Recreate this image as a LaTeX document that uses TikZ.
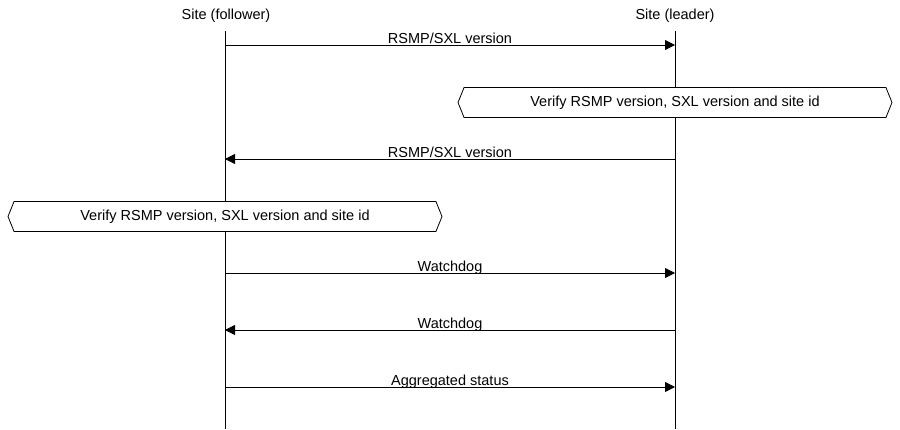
\documentclass[tikz,border=0pt]{standalone}
\usepackage{fontspec}
\setmainfont{Liberation Sans}
\usetikzlibrary{arrows.meta}
\usetikzlibrary{shapes.symbols}

\tikzset{
  life/.style={black,line width=0.8pt},
  msg/.style={black,line width=0.8pt,-{Triangle[length=10pt,width=10pt]}},
  lbl/.style={midway,anchor=base,yshift=1.5pt,inner sep=0pt},
  note/.style={draw,line width=0.8pt,signal,signal to=west and east,signal pointer angle=136,
    minimum height=30pt,inner sep=0pt}
}

\begin{document}
\begin{tikzpicture}[x=1pt,y=-1pt,font=\fontsize{14.5}{17}\selectfont]

\useasboundingbox (0,0) rectangle (900,429);

\node (fol) at (226,16) {Site (follower)};
\node (lead) at (675,16) {Site (leader)};

\coordinate (F0) at (225,31);
\coordinate (L0) at (675,31);
\coordinate (F9) at (225,429);
\coordinate (L9) at (675,429);

\draw[life] (F0)--(F9);
\draw[life] (L0)--(L9);

% messages
\coordinate (F1) at (225,45);
\coordinate (L1) at (675,45);
\coordinate (F2) at (225,159);
\coordinate (L2) at (675,159);
\coordinate (F3) at (225,273);
\coordinate (L3) at (675,273);
\coordinate (F4) at (225,330);
\coordinate (L4) at (675,330);
\coordinate (F5) at (225,387);
\coordinate (L5) at (675,387);

\draw[msg] (F1)--(L1) node [lbl] {RSMP/SXL version};
\draw[msg] (L2)--(F2) node [lbl] {RSMP/SXL version};
\draw[msg] (F3)--(L3) node [lbl] {Watchdog};
\draw[msg] (L4)--(F4) node [lbl] {Watchdog};
\draw[msg] (F5)--(L5) node [lbl] {Aggregated status};

% checks
\node[note,fill=white,minimum width=434pt] (chkL) at (675,102.5) {Verify RSMP version, SXL version and site id};
\node[note,fill=white,minimum width=434pt] (chkF) at (225,216.5) {Verify RSMP version, SXL version and site id};

\end{tikzpicture}
\end{document}
